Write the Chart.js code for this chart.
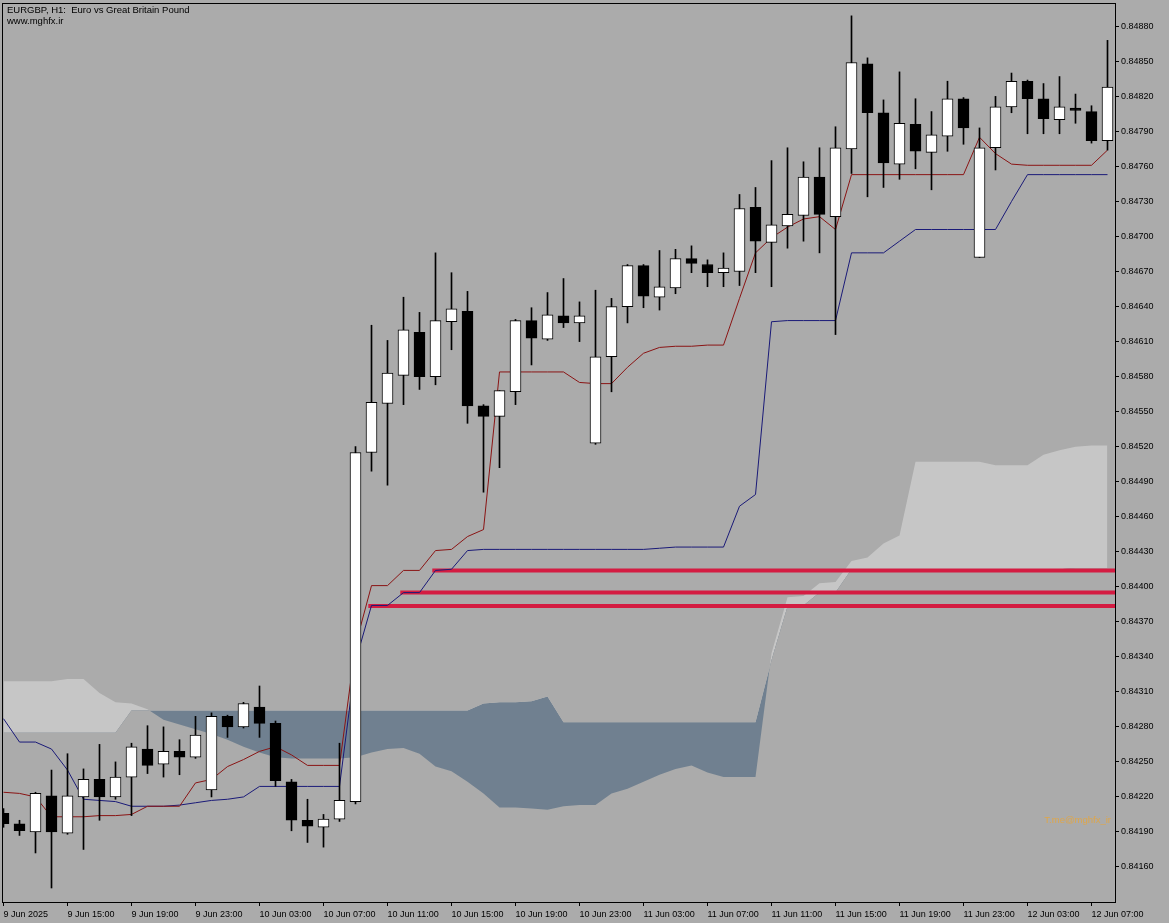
<!DOCTYPE html>
<html>
<head>
<meta charset="utf-8">
<title>EURGBP H1</title>
<script src="https://cdn.jsdelivr.net/npm/chart.js@4.4.1/dist/chart.umd.min.js"></script>
<style>
  html, body { margin: 0; padding: 0; background: #ababab; }
  #wrap { width: 1169px; height: 923px; }
</style>
</head>
<body>
<div id="wrap"><canvas id="chart" width="1169" height="923"></canvas></div>
<script>
const symbolTitle = 'EURGBP, H1:  Euro vs Great Britain Pound';
const siteName = 'www.mghfx.ir';
const watermark = 'T.me@mghfx_ir';

// one label every 4 bars, starting at bar 0
const xTickLabels = [
  '9 Jun 2025', '9 Jun 15:00', '9 Jun 19:00', '9 Jun 23:00', '10 Jun 03:00', '10 Jun 07:00',
  '10 Jun 11:00', '10 Jun 15:00', '10 Jun 19:00', '10 Jun 23:00', '11 Jun 03:00', '11 Jun 07:00',
  '11 Jun 11:00', '11 Jun 15:00', '11 Jun 19:00', '11 Jun 23:00', '12 Jun 03:00', '12 Jun 07:00'
];
const yTickValues = [
  0.84160, 0.84190, 0.84220, 0.84250, 0.84280, 0.84310, 0.84340, 0.84370, 0.84400,
  0.84430, 0.84460, 0.84490, 0.84520, 0.84550, 0.84580, 0.84610, 0.84640, 0.84670,
  0.84700, 0.84730, 0.84760, 0.84790, 0.84820, 0.84850, 0.84880
];

const open = [
  0.84206, 0.84197, 0.84190, 0.84221, 0.84189, 0.84220, 0.84235, 0.84220, 0.84237, 0.84261,
  0.84248, 0.84259, 0.84254, 0.84226, 0.84289, 0.84280, 0.84297, 0.84283, 0.84233, 0.84200,
  0.84194, 0.84201, 0.84216, 0.84515, 0.84557, 0.84581, 0.84618, 0.84580, 0.84627, 0.84636,
  0.84555, 0.84546, 0.84567, 0.84628, 0.84612, 0.84632, 0.84626, 0.84523, 0.84597, 0.84640,
  0.84675, 0.84648, 0.84656, 0.84681, 0.84676, 0.84669, 0.84670, 0.84725, 0.84695, 0.84709,
  0.84718, 0.84751, 0.84717, 0.84775, 0.84848, 0.84806, 0.84762, 0.84796, 0.84772, 0.84786,
  0.84818, 0.84682, 0.84776, 0.84811, 0.84833, 0.84818, 0.84800, 0.84810, 0.84807, 0.84782
];
const high = [
  0.84210, 0.84200, 0.84224, 0.84243, 0.84257, 0.84244, 0.84265, 0.84250, 0.84266, 0.84281,
  0.84280, 0.84269, 0.84289, 0.84292, 0.84290, 0.84301, 0.84315, 0.84285, 0.84235, 0.84218,
  0.84205, 0.84266, 0.84520, 0.84624, 0.84611, 0.84648, 0.84635, 0.84686, 0.84669, 0.84653,
  0.84556, 0.84568, 0.84629, 0.84639, 0.84652, 0.84664, 0.84644, 0.84654, 0.84647, 0.84676,
  0.84676, 0.84688, 0.84689, 0.84692, 0.84680, 0.84686, 0.84736, 0.84742, 0.84765, 0.84776,
  0.84764, 0.84776, 0.84794, 0.84889, 0.84853, 0.84817, 0.84841, 0.84818, 0.84807, 0.84833,
  0.84819, 0.84793, 0.84820, 0.84840, 0.84834, 0.84831, 0.84837, 0.84822, 0.84812, 0.84868
];
const low = [
  0.84194, 0.84187, 0.84172, 0.84142, 0.84188, 0.84175, 0.84200, 0.84218, 0.84204, 0.84240,
  0.84237, 0.84239, 0.84253, 0.84220, 0.84271, 0.84279, 0.84271, 0.84229, 0.84191, 0.84181,
  0.84177, 0.84199, 0.84214, 0.84499, 0.84487, 0.84556, 0.84569, 0.84573, 0.84603, 0.84540,
  0.84481, 0.84502, 0.84556, 0.84590, 0.84611, 0.84622, 0.84610, 0.84522, 0.84567, 0.84626,
  0.84639, 0.84637, 0.84651, 0.84669, 0.84657, 0.84657, 0.84658, 0.84669, 0.84657, 0.84690,
  0.84696, 0.84686, 0.84616, 0.84754, 0.84734, 0.84742, 0.84749, 0.84758, 0.84740, 0.84773,
  0.84779, 0.84682, 0.84757, 0.84806, 0.84788, 0.84788, 0.84788, 0.84797, 0.84780, 0.84774
];
const close = [
  0.84197, 0.84191, 0.84223, 0.84190, 0.84221, 0.84235, 0.84220, 0.84237, 0.84263, 0.84247,
  0.84259, 0.84254, 0.84273, 0.84289, 0.84280, 0.84300, 0.84283, 0.84234, 0.84200, 0.84195,
  0.84201, 0.84217, 0.84515, 0.84558, 0.84583, 0.84620, 0.84580, 0.84628, 0.84638, 0.84555,
  0.84546, 0.84568, 0.84628, 0.84613, 0.84633, 0.84626, 0.84632, 0.84597, 0.84640, 0.84675,
  0.84649, 0.84657, 0.84681, 0.84677, 0.84669, 0.84673, 0.84724, 0.84696, 0.84710, 0.84719,
  0.84751, 0.84719, 0.84776, 0.84849, 0.84806, 0.84763, 0.84797, 0.84773, 0.84787, 0.84818,
  0.84793, 0.84776, 0.84811, 0.84833, 0.84818, 0.84801, 0.84811, 0.84808, 0.84782, 0.84828
];

// Ichimoku lines
const tenkan = [
  0.84224, 0.84223, 0.84220, 0.84203, 0.84203, 0.84203, 0.84204, 0.84204, 0.84205, 0.84212,
  0.84212, 0.84212, 0.84232, 0.84235, 0.84246, 0.84252, 0.84259, 0.84263, 0.84256, 0.84247,
  0.84247, 0.84247, 0.84350, 0.84401, 0.84401, 0.84414, 0.84414, 0.84431, 0.84432, 0.84443,
  0.84449, 0.84584, 0.84584, 0.84584, 0.84584, 0.84584, 0.84575, 0.84574, 0.84574, 0.84588,
  0.84600, 0.84605, 0.84606, 0.84606, 0.84607, 0.84607, 0.84647, 0.84686, 0.84699, 0.84708,
  0.84715, 0.84717, 0.84706, 0.84753, 0.84753, 0.84753, 0.84753, 0.84753, 0.84753, 0.84753,
  0.84753, 0.84785, 0.84771, 0.84762, 0.84761, 0.84761, 0.84761, 0.84761, 0.84761, 0.84774
];
const kijun = [
  0.84287, 0.84267, 0.84267, 0.84261, 0.84243, 0.84218, 0.84217, 0.84216, 0.84212, 0.84212,
  0.84212, 0.84213, 0.84215, 0.84217, 0.84218, 0.84220, 0.84229, 0.84229, 0.84229, 0.84229,
  0.84229, 0.84229, 0.84336, 0.84384, 0.84384, 0.84395, 0.84395, 0.84414, 0.84415, 0.84431,
  0.84432, 0.84432, 0.84432, 0.84432, 0.84432, 0.84432, 0.84432, 0.84432, 0.84432, 0.84432,
  0.84432, 0.84433, 0.84434, 0.84434, 0.84434, 0.84434, 0.84469, 0.84479, 0.84627, 0.84628,
  0.84628, 0.84628, 0.84628, 0.84686, 0.84686, 0.84686, 0.84696, 0.84706, 0.84706, 0.84706,
  0.84706, 0.84706, 0.84706, 0.84730, 0.84753, 0.84753, 0.84753, 0.84753, 0.84753, 0.84753
];
const spanA = [
  0.84319, 0.84319, 0.84319, 0.84319, 0.84321, 0.84321, 0.84309, 0.84301, 0.84300, 0.84295,
  0.84286, 0.84282, 0.84278, 0.84274, 0.84269, 0.84263, 0.84258, 0.84254, 0.84253, 0.84253,
  0.84253, 0.84253, 0.84254, 0.84258, 0.84261, 0.84262, 0.84257, 0.84246, 0.84242, 0.84233,
  0.84223, 0.84211, 0.84211, 0.84210, 0.84209, 0.84212, 0.84213, 0.84213, 0.84223, 0.84227,
  0.84233, 0.84239, 0.84244, 0.84247, 0.84241, 0.84237, 0.84237, 0.84237, 0.84343, 0.84391,
  0.84392, 0.84403, 0.84404, 0.84422, 0.84425, 0.84437, 0.84444, 0.84507, 0.84507, 0.84507,
  0.84507, 0.84507, 0.84504, 0.84504, 0.84504, 0.84513, 0.84517, 0.84520, 0.84521, 0.84521
];
const spanB = [
  0.84275, 0.84275, 0.84275, 0.84275, 0.84275, 0.84275, 0.84275, 0.84275, 0.84294, 0.84294,
  0.84294, 0.84294, 0.84294, 0.84294, 0.84294, 0.84294, 0.84294, 0.84294, 0.84294, 0.84294,
  0.84294, 0.84294, 0.84294, 0.84294, 0.84294, 0.84294, 0.84294, 0.84294, 0.84294, 0.84294,
  0.84300, 0.84301, 0.84301, 0.84302, 0.84306, 0.84284, 0.84284, 0.84284, 0.84284, 0.84284,
  0.84284, 0.84284, 0.84284, 0.84284, 0.84284, 0.84284, 0.84284, 0.84284, 0.84337, 0.84383,
  0.84384, 0.84395, 0.84395, 0.84415, 0.84415, 0.84415, 0.84415, 0.84415, 0.84415, 0.84415,
  0.84415, 0.84415, 0.84415, 0.84415, 0.84415, 0.84415, 0.84415, 0.84416, 0.84416, 0.84416
];

// flat kijun levels drawn as thick horizontal lines
const levelStart = [23, 25, 27];
const levelValue = [0.843835, 0.84395, 0.84414];

const BG = '#ababab';
const lastBar = open.length - 1;

const asPoints = arr => arr.map((v, i) => ({ x: i, y: v }));

const levelSets = levelValue.map((v, k) => ({
  type: 'line',
  data: [{ x: levelStart[k] - 0.2, y: v }, { x: lastBar + 1, y: v }],
  borderColor: '#d41c42',
  borderWidth: 4,
  pointRadius: 0,
  order: 40
}));

const framePlugin = {
  id: 'frame',
  beforeDraw(chart) {
    const ctx = chart.ctx;
    ctx.save();
    ctx.fillStyle = BG;
    ctx.fillRect(0, 0, chart.width, chart.height);
    ctx.restore();
  },
  afterDraw(chart) {
    const { ctx, chartArea: a } = chart;
    ctx.save();
    ctx.strokeStyle = '#000';
    ctx.lineWidth = 1;
    ctx.strokeRect(a.left + 0.5, a.top + 0.5, a.right - a.left, a.bottom - a.top);
    ctx.fillStyle = '#000';
    ctx.font = '9.5px "Liberation Sans", Arial, sans-serif';
    ctx.textBaseline = 'middle';
    ctx.fillText(symbolTitle, a.left + 5, a.top + 7);
    ctx.fillText(siteName, a.left + 5, a.top + 18);
    ctx.fillStyle = 'rgba(235, 165, 50, 0.8)';
    ctx.textAlign = 'right';
    ctx.fillText(watermark, a.right - 4, a.bottom - 82);
    ctx.restore();
  }
};

new Chart(document.getElementById('chart'), {
  type: 'bar',
  data: {
    datasets: [
      {
        type: 'line',
        data: asPoints(spanB),
        borderColor: 'rgba(0,0,0,0)',
        borderWidth: 1,
        pointRadius: 0,
        fill: false,
        order: 51
      },
      {
        type: 'line',
        data: asPoints(spanA),
        borderColor: 'rgba(0,0,0,0)',
        borderWidth: 1,
        pointRadius: 0,
        fill: { target: 0, above: '#c6c6c6', below: '#708090' },
        order: 50
      },
      ...levelSets,
      {
        type: 'line',
        data: asPoints(kijun),
        borderColor: '#1a1a78',
        borderWidth: 1,
        pointRadius: 0,
        order: 31
      },
      {
        type: 'line',
        data: asPoints(tenkan),
        borderColor: '#8a1414',
        borderWidth: 1,
        pointRadius: 0,
        order: 30
      },
      {
        // wicks
        data: open.map((o, i) => ({ x: i, y: [low[i], high[i]] })),
        backgroundColor: '#000',
        borderWidth: 0,
        barThickness: 1,
        grouped: false,
        order: 20
      },
      {
        // bodies
        data: open.map((o, i) => ({ x: i, y: [o, close[i]] })),
        backgroundColor: open.map((o, i) => close[i] >= o ? '#ffffff' : '#000000'),
        borderColor: '#000',
        borderWidth: 1,
        borderSkipped: false,
        barThickness: 11,
        grouped: false,
        order: 10
      }
    ]
  },
  options: {
    responsive: false,
    animation: false,
    events: [],
    layout: { padding: { left: 2, top: 3, right: 0, bottom: 0 } },
    plugins: { legend: { display: false }, tooltip: { enabled: false } },
    scales: {
      x: {
        type: 'linear',
        offset: false,
        min: -0.09375,
        max: 69.46875,
        afterBuildTicks: s => { s.ticks = xTickLabels.map((t, k) => ({ value: k * 4 })); },
        afterFit: s => { s.height = 21; s.paddingLeft = 0; s.paddingRight = 0; },
        border: { display: false },
        grid: { offset: false, drawOnChartArea: false, drawTicks: true, tickLength: 4, tickColor: '#000', tickWidth: 1 },
        ticks: {
          autoSkip: false,
          maxRotation: 0,
          minRotation: 0,
          align: 'start',
          padding: 3,
          color: '#000',
          font: { family: '"Liberation Sans", Arial, sans-serif', size: 9 },
          callback: v => xTickLabels[Math.round(v / 4)]
        }
      },
      y: {
        position: 'right',
        min: 0.8413,
        max: 0.849,
        afterBuildTicks: s => { s.ticks = yTickValues.map(v => ({ value: v })); },
        afterFit: s => { s.width = 54; s.paddingTop = 0; s.paddingBottom = 0; },
        border: { display: false },
        grid: { drawOnChartArea: false, drawTicks: true, tickLength: 4, tickColor: '#000', tickWidth: 1 },
        ticks: {
          padding: 2,
          color: '#000',
          font: { family: '"Liberation Sans", Arial, sans-serif', size: 9 },
          callback: v => v.toFixed(5)
        }
      }
    }
  },
  plugins: [framePlugin]
});
</script>
</body>
</html>
